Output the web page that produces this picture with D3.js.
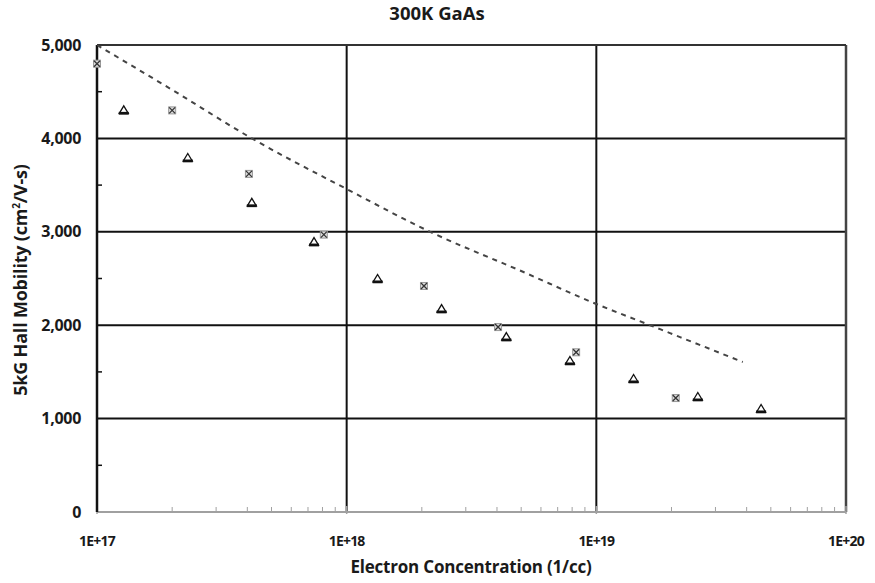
<!DOCTYPE html>
<html lang="en">
  <head>
    <meta charset="utf-8">
    <title>300K GaAs</title>
    <style>
      body { margin: 0; background: #fff; }
      text { font-family: 'Open Sans', sans-serif; font-weight: bold; fill: #1a1a1a; }
    </style>
  </head>
  <body>
    <div id="chart-area"></div>
    <script src="https://cdn.jsdelivr.net/npm/d3@7"></script>
    <script>
      // data
      const cross_conc = [1.0e17, 2.0e17, 4.06e17, 8.1e17, 2.04e18, 4.04e18, 8.3e18, 2.08e19];
      const cross_mob = [4800, 4300, 3620, 2970, 2420, 1980, 1710, 1220];
      const tri_conc = [1.28e17, 2.31e17, 4.17e17, 7.4e17, 1.33e18, 2.4e18, 4.36e18, 7.84e18, 1.41e19, 2.55e19, 4.57e19];
      const tri_mob = [4300, 3790, 3310, 2890, 2495, 2173, 1873, 1617, 1424, 1231, 1103];
      const fit_conc = [1e17, 2e17, 4.17e17, 1e18, 2.16e18, 5e18, 1e19, 1.64e19, 3.86e19];
      const fit_mob = [5000, 4520, 4000, 3458, 3000, 2580, 2227, 2000, 1606];
      const x_ticks = [1e17, 1e18, 1e19, 1e20];
      const x_tick_labels = ['1E+17', '1E+18', '1E+19', '1E+20'];
      const y_ticks = [0, 1000, 2000, 3000, 4000, 5000];

      const svg_width = 875;
      const svg_height = 583;
      const plot_left = 97, plot_right = 846, plot_top = 45, plot_bottom = 512;

      const svg = d3.select('#chart-area')
        .append('svg')
        .attr('width', svg_width)
        .attr('height', svg_height);

      const x_scale = d3.scaleLog().domain([1e17, 1e20]).range([plot_left, plot_right]);
      const y_scale = d3.scaleLinear().domain([0, 5000]).range([plot_bottom, plot_top]);

      // horizontal grid
      svg.selectAll('.hgrid').data(y_ticks.filter(d => d > 0)).enter()
        .append('line')
        .attr('x1', plot_left).attr('x2', plot_right)
        .attr('y1', d => y_scale(d)).attr('y2', d => y_scale(d))
        .attr('stroke', '#111').attr('stroke-width', 2);

      // vertical grid
      svg.selectAll('.vgrid').data(x_ticks.slice(1)).enter()
        .append('line')
        .attr('x1', d => x_scale(d)).attr('x2', d => x_scale(d))
        .attr('y1', plot_top).attr('y2', plot_bottom)
        .attr('stroke', '#111').attr('stroke-width', 2);

      // border
      svg.append('line')
        .attr('x1', plot_right).attr('x2', plot_right).attr('y1', plot_top).attr('y2', plot_bottom)
        .attr('stroke', '#444').attr('stroke-width', 2.5);
      svg.append('line')
        .attr('x1', plot_left).attr('x2', plot_right).attr('y1', plot_top).attr('y2', plot_top)
        .attr('stroke', '#333').attr('stroke-width', 2);

      // x axis (gray) with log minor ticks
      const minor_x = [];
      x_ticks.slice(0, 3).forEach(d => {
        for (let k = 2; k <= 9; k++) minor_x.push(d * k);
      });
      svg.append('line')
        .attr('x1', plot_left).attr('x2', plot_right).attr('y1', plot_bottom).attr('y2', plot_bottom)
        .attr('stroke', '#a0a0a0').attr('stroke-width', 2);
      svg.selectAll('.xminor').data(minor_x).enter()
        .append('line')
        .attr('x1', d => x_scale(d)).attr('x2', d => x_scale(d))
        .attr('y1', plot_bottom - 5).attr('y2', plot_bottom)
        .attr('stroke', '#a0a0a0').attr('stroke-width', 1);
      svg.selectAll('.xmajor').data(x_ticks).enter()
        .append('line')
        .attr('x1', d => x_scale(d)).attr('x2', d => x_scale(d))
        .attr('y1', plot_bottom - 6).attr('y2', plot_bottom + 2)
        .attr('stroke', '#a0a0a0').attr('stroke-width', 1.5);

      // y axis
      svg.append('line')
        .attr('x1', plot_left).attr('x2', plot_left).attr('y1', plot_top).attr('y2', plot_bottom)
        .attr('stroke', '#111').attr('stroke-width', 2.5);
      svg.selectAll('.yminor').data(d3.range(500, 5000, 1000)).enter()
        .append('line')
        .attr('x1', plot_left - 1).attr('x2', plot_left + 5)
        .attr('y1', d => y_scale(d)).attr('y2', d => y_scale(d))
        .attr('stroke', '#111').attr('stroke-width', 1.5);

      // tick labels
      svg.selectAll('.ylab').data(y_ticks).enter()
        .append('text')
        .attr('x', plot_left - 16)
        .attr('y', d => y_scale(d) + 5.5)
        .attr('text-anchor', 'end')
        .attr('font-size', '16px')
        .attr('letter-spacing', '-0.3px')
        .text(d3.format(','));

      svg.selectAll('.xlab').data(x_ticks).enter()
        .append('text')
        .attr('x', d => x_scale(d))
        .attr('y', plot_bottom + 34)
        .attr('text-anchor', 'middle')
        .attr('font-size', '14px')
        .attr('letter-spacing', '-0.8px')
        .text((d, i) => x_tick_labels[i]);

      // titles
      svg.append('text')
        .attr('x', 437).attr('y', 20)
        .attr('text-anchor', 'middle')
        .attr('font-size', '18.5px')
        .text('300K GaAs');

      svg.append('text')
        .attr('x', 471).attr('y', 573)
        .attr('text-anchor', 'middle')
        .attr('font-size', '17px')
        .attr('letter-spacing', '-0.2px')
        .text('Electron Concentration (1/cc)');

      const ylab = svg.append('text')
        .attr('transform', 'translate(27,' + 280 + ') rotate(-90)')
        .attr('text-anchor', 'middle')
        .attr('font-size', '18px')
        .attr('letter-spacing', '-0.2px');
      ylab.append('tspan').text('5kG Hall Mobility (cm');
      ylab.append('tspan').attr('font-size', '10px').attr('dy', -7).text('2');
      ylab.append('tspan').attr('dy', 7).text('/V-s)');

      // dashed fit curve
      const fit_line = d3.line()
        .x((d, i) => x_scale(fit_conc[i]))
        .y(d => y_scale(d))
        .curve(d3.curveMonotoneX);
      svg.append('path')
        .attr('d', fit_line(fit_mob))
        .attr('fill', 'none')
        .attr('stroke', '#444')
        .attr('stroke-width', 2)
        .attr('stroke-dasharray', '5,5');

      // cross markers (box with x)
      const crosses = svg.selectAll('.cross').data(cross_mob).enter()
        .append('g')
        .attr('transform', (d, i) => `translate(${x_scale(cross_conc[i])},${y_scale(d)})`);
      crosses.append('rect')
        .attr('x', -3.5).attr('y', -3.5).attr('width', 7).attr('height', 7)
        .attr('fill', '#ddd').attr('stroke', '#999').attr('stroke-width', 1);
      crosses.append('path')
        .attr('d', 'M-3,-3L3,3M-3,3L3,-3')
        .attr('stroke', '#333').attr('stroke-width', 1.3);

      // triangle markers
      const tri = svg.selectAll('.tri').data(tri_mob).enter()
        .append('g')
        .attr('transform', (d, i) => `translate(${x_scale(tri_conc[i])},${y_scale(d)})`);
      tri.append('path')
        .attr('d', 'M0,-4.5L4.5,3L-4.5,3Z')
        .attr('fill', '#fff').attr('stroke', '#111').attr('stroke-width', 1.3);
      tri.append('rect')
        .attr('x', -5).attr('y', 1.5).attr('width', 10).attr('height', 2.8)
        .attr('fill', '#111');
    </script>
  </body>
</html>
